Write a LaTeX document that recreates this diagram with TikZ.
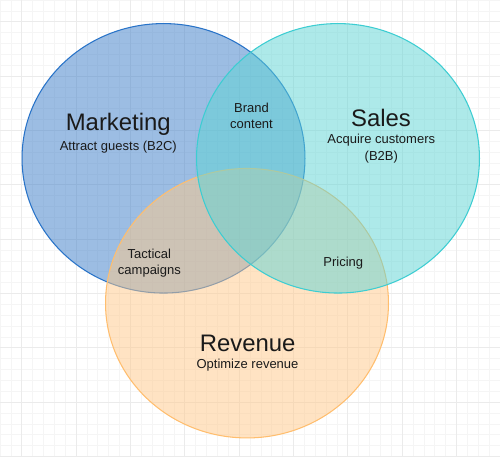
\documentclass[tikz,border=0pt]{standalone}
\usepackage{fontspec}
\setmainfont{Liberation Sans}
\usetikzlibrary{shapes.geometric}

\definecolor{mktfill}{RGB}{59,125,201}
\definecolor{mktline}{RGB}{40,115,200}
\definecolor{salesfill}{RGB}{93,213,213}
\definecolor{salesline}{RGB}{60,205,210}
\definecolor{revfill}{RGB}{255,201,137}
\definecolor{revline}{RGB}{255,190,110}
\definecolor{labeltext}{RGB}{26,26,26}

\begin{document}
\begin{tikzpicture}[
    x=0.02cm, y=-0.02cm,
    gridminor/.style={draw=black!4, line width=0.4pt},
    gridmajor/.style={draw=black!8, line width=0.5pt},
    set/.style={draw, ellipse, inner sep=0pt, minimum width=5.66cm,
                minimum height=5.39cm, fill opacity=0.5, line width=0.6pt},
    title/.style={font=\fontsize{13.6}{16}\selectfont, text=labeltext},
    sub/.style={font=\fontsize{7.4}{9.4}\selectfont, align=center,
                text=labeltext}
  ]
  \useasboundingbox[fill=white] (0,0) rectangle (500,457);

  % background grid
  \foreach \i in {0,...,46} {
    \draw[gridminor] (\i*10.87,0) -- (\i*10.87,457);
  }
  \foreach \j in {0,...,42} {
    \draw[gridminor] (0,\j*10.87) -- (500,\j*10.87);
  }
  \foreach \i in {2,7,...,42} {
    \draw[gridmajor] (\i*10.87,0) -- (\i*10.87,457);
  }
  \foreach \j in {2,7,...,42} {
    \draw[gridmajor] (0,\j*10.87) -- (500,\j*10.87);
  }

  % the three sets
  \node[set, draw=mktline, fill=mktfill] (mkt) at (163.5,158.3) {};
  \node[set, draw=revline, fill=revfill] (rev) at (247,303.2) {};
  \node[set, draw=salesline, fill=salesfill] (sales) at (338,158.3) {};

  % labels
  \node[title] (mkttitle) at (118.3,124.5) {Marketing};
  \node[sub] (mktsub) at (118.3,147) {Attract guests (B2C)};
  \node[title] (salestitle) at (381,117.5) {Sales};
  \node[sub] (salessub) at (381.3,148.5) {Acquire customers\\(B2B)};
  \node[title] (revtitle) at (247.7,343.5) {Revenue};
  \node[sub] (revsub) at (247.5,365.5) {Optimize revenue};

  \node[sub] (brand) at (251.5,116) {Brand\\content};
  \node[sub] (tactical) at (149.4,263) {Tactical\\campaigns};
  \node[sub] (pricing) at (343.3,263.5) {Pricing};
\end{tikzpicture}
\end{document}
